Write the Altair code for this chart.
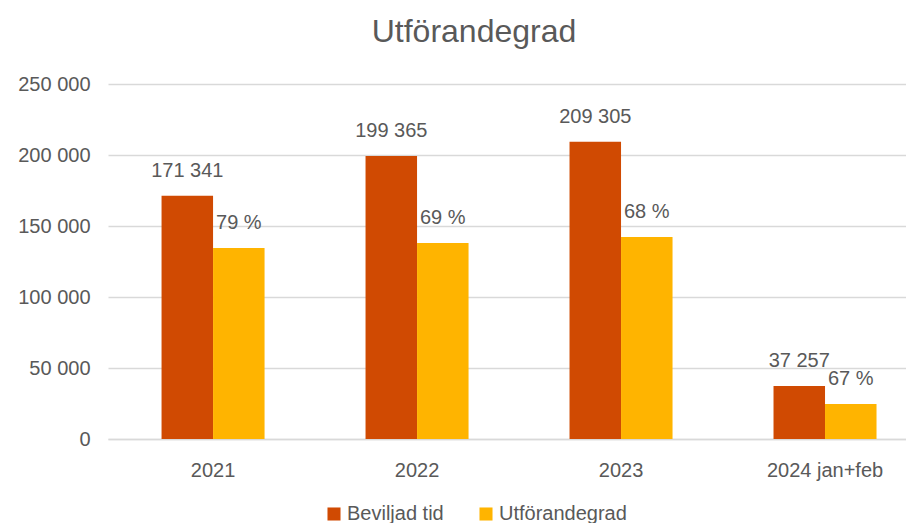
import altair as alt
import pandas as pd

years = ["2021", "2022", "2023", "2024 jan+feb"]
beviljad = [171341, 199365, 209305, 37257]
utford = [134500, 138000, 142300, 24700]
grad_labels = ["79 %", "69 %", "68 %", "67 %"]
series = ["Beviljad tid", "Utförandegrad"]
colors = ["#D04A02", "#FFB400"]
y_ticks = [0, 50000, 100000, 150000, 200000, 250000]

rows = []
for i, yr in enumerate(years):
    rows.append({"year": yr, "serie": series[0], "value": beviljad[i],
                 "label": f"{beviljad[i]:,}".replace(",", " ")})
    rows.append({"year": yr, "serie": series[1], "value": utford[i],
                 "label": grad_labels[i]})
df = pd.DataFrame(rows)

FONT = "Liberation Sans"
GRAY = "#595959"

x = alt.X("year:N", sort=years, title=None,
          scale=alt.Scale(paddingInner=0.495, paddingOuter=0.2035, align=0.645),
          axis=alt.Axis(labelAngle=0, labelFontSize=20, labelColor=GRAY, labelFont=FONT,
                        ticks=False, domainColor="#D9D9D9", domainWidth=1.5, labelPadding=21))
xoff = alt.XOffset("serie:N", sort=series)
y = alt.Y("value:Q", title=None,
          scale=alt.Scale(domain=[0, 250000]),
          axis=alt.Axis(values=y_ticks, labelExpr="replace(format(datum.value, ','), ',', ' ')",
                        labelFontSize=20, labelColor=GRAY, labelFont=FONT, ticks=False,
                        domain=False, gridColor="#D9D9D9", gridWidth=1.5, labelPadding=18))

bars = alt.Chart(df).mark_bar().encode(
    x=x, xOffset=xoff, y=y,
    color=alt.Color("serie:N", sort=series, title=None,
                    scale=alt.Scale(domain=series, range=colors),
                    legend=alt.Legend(orient="none", legendX=216, legendY=420, direction="horizontal",
                                      symbolType="square", symbolSize=170, symbolStrokeWidth=0,
                                      labelFontSize=20, labelColor=GRAY, labelFont=FONT,
                                      columnPadding=32, labelOffset=3)),
)

text = alt.Chart(df).mark_text(baseline="bottom", dy=-15, fontSize=20, color=GRAY, font=FONT).encode(
    x=x, xOffset=xoff, y=y, text="label:N"
)

chart = (bars + text).properties(
    width=798, height=355,
    padding={"left": 100, "top": 76, "right": 0, "bottom": 84},
    autosize=alt.AutoSizeParams(type="none"),
    title=alt.TitleParams("Utförandegrad", fontSize=32, font=FONT, color=GRAY, fontWeight="normal",
                          anchor="middle", offset=25, dx=-33),
).configure_view(stroke=None)

chart.save("out.html", embed_options={"renderer": "svg", "actions": False})
